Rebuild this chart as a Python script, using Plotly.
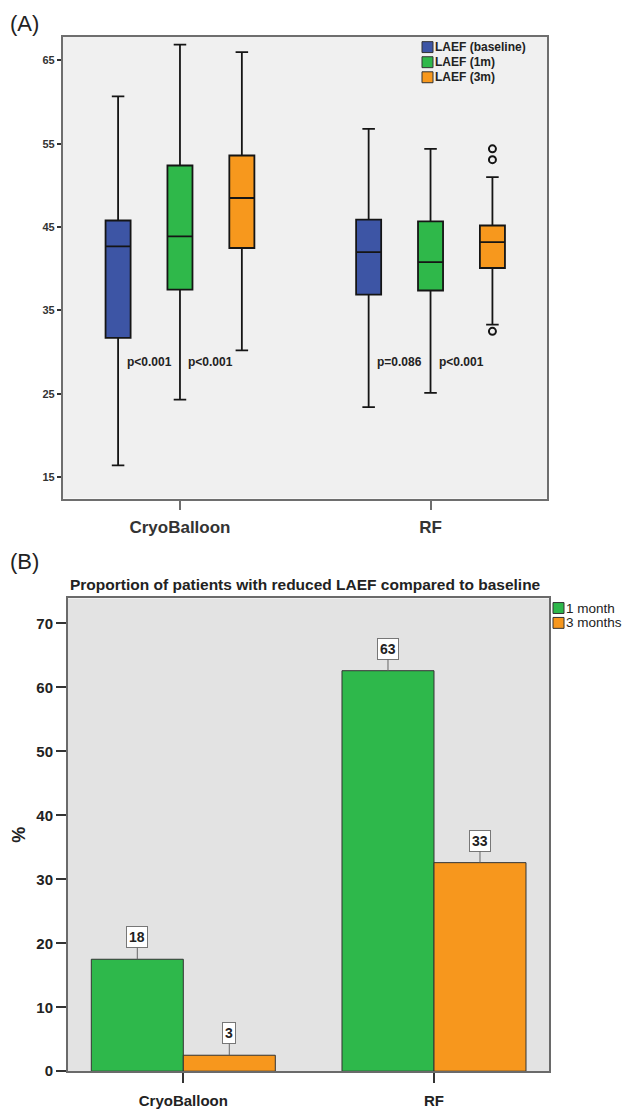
import math
import plotly.graph_objects as go

# ---------------- Data: panel A (box plots of LAEF) ----------------
categories = ["CryoBalloon", "RF"]
series_a = ["LAEF (baseline)", "LAEF (1m)", "LAEF (3m)"]

baseline_low = [16.4, 23.4]
baseline_q1 = [31.7, 36.9]
baseline_med = [42.7, 42.0]
baseline_q3 = [45.8, 45.9]
baseline_high = [60.7, 56.8]

m1_low = [24.3, 25.1]
m1_q1 = [37.5, 37.4]
m1_med = [43.9, 40.8]
m1_q3 = [52.4, 45.7]
m1_high = [66.9, 54.4]

m3_low = [30.2, 33.3]
m3_q1 = [42.5, 40.1]
m3_med = [48.5, 43.2]
m3_q3 = [53.6, 45.2]
m3_high = [66.0, 51.0]

rf_3m_outliers = [54.4, 53.1, 32.5]

p_labels = ["p&lt;0.001", "p&lt;0.001", "p=0.086", "p&lt;0.001"]
p_label_y = 28.8

a_yticks = [15, 25, 35, 45, 55, 65]

# ---------------- Data: panel B (bar chart) ----------------
series_b = ["1 month", "3 months"]
pct_1m = [17.5, 62.6]
pct_3m = [2.5, 32.6]
b_yticks = [0, 10, 20, 30, 40, 50, 60, 70]
b_title = "Proportion of patients with reduced LAEF compared to baseline"

# ---------------- Styles ----------------
W, H = 622, 1109
col_a = ["#3D55A5", "#2FB84A", "#F7981D"]
col_b = ["#2EB84B", "#F7971D"]
FONT = "Arial, Liberation Sans, sans-serif"
NARROW = "Liberation Sans Narrow, Arial Narrow, Arial, sans-serif"

def px(x):
    return x / W

def py(y):
    return 1 - y / H

fig = go.Figure()

# group layout for panel A
a_off = [-0.247, 0.0, 0.247]
box_w = 0.1
stats = [
    (baseline_low, baseline_q1, baseline_med, baseline_q3, baseline_high),
    (m1_low, m1_q1, m1_med, m1_q3, m1_high),
    (m3_low, m3_q1, m3_med, m3_q3, m3_high),
]
for i, (lo, q1, med, q3, hi) in enumerate(stats):
    fig.add_trace(go.Box(
        x=[k + a_off[i] for k in range(len(categories))],
        lowerfence=lo, q1=q1, median=med, q3=q3, upperfence=hi,
        name=series_a[i], width=box_w, whiskerwidth=0.5,
        fillcolor=col_a[i], line=dict(color="#151515", width=1.8),
        boxpoints=False, showlegend=False, hoverinfo="skip",
        xaxis="x", yaxis="y",
    ))

# outliers of RF, 3m
fig.add_trace(go.Scatter(
    x=[1 + a_off[2]] * len(rf_3m_outliers), y=rf_3m_outliers,
    mode="markers",
    marker=dict(symbol="circle-open", size=7, color="#151515",
                line=dict(width=2, color="#151515")),
    showlegend=False, hoverinfo="skip", xaxis="x", yaxis="y",
))

# p-value annotations between boxes
annotations = []
pi = 0
for k in range(len(categories)):
    for j in range(2):
        xm = k + (a_off[j] + a_off[j + 1]) / 2
        annotations.append(dict(
            x=xm, y=p_label_y, xref="x", yref="y", text="<b>%s</b>" % p_labels[pi],
            showarrow=False, font=dict(family=NARROW, size=12, color="#222")))
        pi += 1

# panel B bars
b_off = [-0.1835, 0.1835]
bar_w = 0.367
for i, vals in enumerate([pct_1m, pct_3m]):
    xs = [k + b_off[i] for k in range(len(categories))]
    fig.add_trace(go.Bar(
        x=xs, y=vals, width=bar_w, name=series_b[i],
        marker=dict(color=col_b[i], line=dict(color="#333", width=1)),
        showlegend=False, hoverinfo="skip", xaxis="x2", yaxis="y2",
    ))
    for xv, v in zip(xs, vals):
        annotations.append(dict(
            x=xv, y=v, xref="x2", yref="y2", text="<b>%d</b>" % math.floor(v + 0.5),
            showarrow=True, arrowhead=0, arrowwidth=1, arrowcolor="#666",
            ax=0, ay=-22, bgcolor="white", bordercolor="#777", borderwidth=1,
            borderpad=2, font=dict(family=NARROW, size=14, color="#222")))

# panel labels and title
annotations.append(dict(x=px(8), y=py(24), xref="paper", yref="paper",
                        text="(A)", showarrow=False, xanchor="left", yanchor="middle",
                        font=dict(family=FONT, size=22, color="#222")))
annotations.append(dict(x=px(8), y=py(566), xref="paper", yref="paper",
                        text="(B)", showarrow=False, xanchor="left", yanchor="middle",
                        font=dict(family=FONT, size=22, color="#222")))
annotations.append(dict(x=px(305.5), y=py(589), xref="paper", yref="paper",
                        text="<b>%s</b>" % b_title, showarrow=False, yanchor="middle",
                        font=dict(family=NARROW, size=15.5, color="#222")))

# manual legends
shapes = []
for i, name in enumerate(series_a):
    yc = 47.5 + i * 15.2
    shapes.append(dict(type="rect", xref="paper", yref="paper",
                       x0=px(422), x1=px(433), y0=py(yc - 5.5), y1=py(yc + 5.5),
                       fillcolor=col_a[i], line=dict(color="#333", width=1)))
    annotations.append(dict(x=px(433), y=py(yc), xref="paper", yref="paper",
                            text="<b>%s</b>" % name, showarrow=False,
                            xanchor="left", yanchor="middle",
                            font=dict(family=FONT, size=12, color="#222")))
for i, name in enumerate(series_b):
    yc = 613 + i * 15
    shapes.append(dict(type="rect", xref="paper", yref="paper",
                       x0=px(553), x1=px(564), y0=py(yc - 5.5), y1=py(yc + 5.5),
                       fillcolor=col_b[i], line=dict(color="#333", width=1)))
    annotations.append(dict(x=px(564), y=py(yc), xref="paper", yref="paper",
                            text=name, showarrow=False,
                            xanchor="left", yanchor="middle",
                            font=dict(family=NARROW, size=13.5, color="#222")))

frame_a = "#6E6E6E"
frame_b = "#6A6A6A"

fig.update_layout(
    width=W, height=H,
    margin=dict(l=0, r=0, t=0, b=0),
    paper_bgcolor="white",
    font=dict(family=FONT, color="#222"),
    showlegend=False,
    annotations=annotations,
    shapes=shapes,
    # panel A
    xaxis=dict(domain=[px(62.7), px(547.3)], range=[-0.468, 1.466],
               tickmode="array", tickvals=list(range(len(categories))),
               ticktext=["<b>%s</b>" % c for c in categories],
               ticks="outside", ticklen=10, tickwidth=1.5,
               tickcolor=frame_a, showline=True, mirror=True, linecolor=frame_a,
               linewidth=1.5, showgrid=False, zeroline=False, anchor="y",
               tickfont=dict(family=FONT, size=17, color="#333"),
               ticklabelstandoff=2),
    yaxis=dict(domain=[py(502.7), py(37.3)], range=[12.42, 67.82],
               tickmode="array", tickvals=a_yticks,
               ticktext=["<b>%d</b>" % t for t in a_yticks],
               ticks="outside", ticklen=4, tickwidth=1.5, tickcolor="#333",
               showline=True, mirror=True, linecolor=frame_a, linewidth=1.5,
               showgrid=False, zeroline=False, anchor="x",
               tickfont=dict(family=NARROW, size=11, color="#333")),
    # panel B
    xaxis2=dict(domain=[px(68), px(549.3)], range=[-0.46, 1.46],
                tickmode="array", tickvals=list(range(len(categories))),
                ticktext=["<b>%s</b>" % c for c in categories],
                ticks="outside", ticklen=10, tickwidth=1.5, tickcolor="#333",
                showline=True, mirror=True, linecolor=frame_b, linewidth=2,
                showgrid=False, zeroline=False, anchor="y2",
                tickfont=dict(family=NARROW, size=15, color="#222"),
                ticklabelstandoff=5),
    yaxis2=dict(domain=[py(1080), py(603.3)], range=[0, 73.9],
                tickmode="array", tickvals=b_yticks,
                ticktext=["<b>%d</b>" % t for t in b_yticks],
                ticks="outside", ticklen=10, tickwidth=2, tickcolor="#333",
                showline=True, mirror=True, linecolor=frame_b, linewidth=2,
                showgrid=False, zeroline=False, anchor="x2",
                tickfont=dict(family=NARROW, size=15, color="#222"),
                title=dict(text="<b>%</b>", standoff=6,
                           font=dict(family=NARROW, size=18, color="#222"))),
    plot_bgcolor="rgba(0,0,0,0)",
)

# plot-area backgrounds (A light gray, B darker gray)
fig.add_shape(type="rect", xref="x domain", yref="y domain", x0=0, x1=1, y0=0, y1=1,
              fillcolor="#F0F0F0", line=dict(width=0), layer="below")
fig.add_shape(type="rect", xref="x2 domain", yref="y2 domain", x0=0, x1=1, y0=0, y1=1,
              fillcolor="#E3E3E3", line=dict(width=0), layer="below")

fig.write_html("out.html", config={"displayModeBar": False},
               post_script="document.body.style.margin='0';document.body.style.overflow='hidden';")
